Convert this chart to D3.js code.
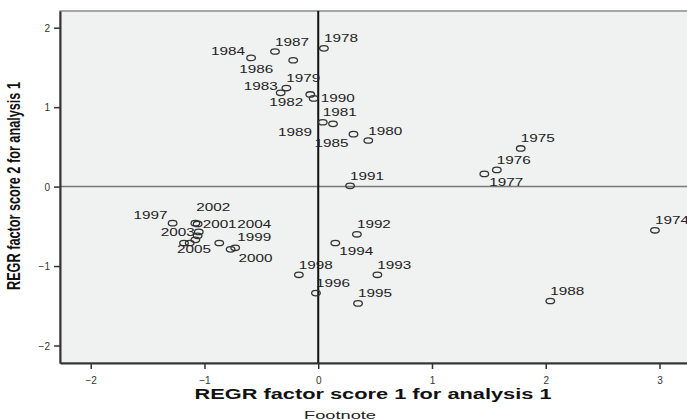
<!DOCTYPE html>
<html>
<head>
<meta charset="utf-8">
<script src="https://cdn.jsdelivr.net/npm/d3@7"></script>
<style>
  body { margin: 0; background: #fff; }
  svg { display: block; font-family: Arial, "Liberation Sans", sans-serif; }
</style>
</head>
<body>
<div id="chart"></div>
<script>
// factor scores per year (factor 1 on x, factor 2 on y)
const years = ["1974","1975","1976","1977","1978","1979","1980","1981","1982","1983",
  "1984","1985","1986","1987","1988","1989","1990","1991","1992","1993","1994","1995",
  "1996","1997","1998","1999","2000","2001","2002","2003","2004","2005","","",""];
const score1 = [2.96,1.78,1.57,1.46,0.05,-0.28,0.44,0.04,-0.07,-0.33,
  -0.59,0.31,-0.22,-0.38,2.04,0.13,-0.04,0.28,0.34,0.52,0.15,0.35,
  -0.02,-1.28,-0.17,-0.73,-0.77,-1.06,-1.08,-1.05,-0.87,-1.18,-1.06,-1.08,-1.13];
const score2 = [-0.55,0.48,0.21,0.16,1.74,1.24,0.58,0.81,1.16,1.18,
  1.62,0.66,1.59,1.70,-1.44,0.79,1.11,0.01,-0.60,-1.11,-0.71,-1.47,
  -1.34,-0.46,-1.11,-0.77,-0.79,-0.47,-0.46,-0.57,-0.71,-0.71,-0.62,-0.67,-0.71];
const xTicks = [-2, -1, 0, 1, 2, 3];
const yTicks = [-2, -1, 0, 1, 2];

// label placement tweaks (pixels from point), default is up and to the right
const labelNudge = {
  "1984": [-6, -7, "end"], "1986": [-20, 9, "end"], "1983": [-3, -7, "end"],
  "1982": [-7, 8, "end"], "1990": [7, 0], "1989": [-21, 8, "end"],
  "1985": [-5, 9, "end"], "1977": [5, 8], "1994": [4, 8],
  "1997": [-5, -8, "end"], "2002": [1, -16], "2001": [5, 0],
  "2003": [-4, 0, "end"], "2004": [18, -19], "2005": [-7, 6],
  "1999": [2, -11], "2000": [8, 9]
};

const width = 687, height = 420;
const margin = { top: 11, left: 60, bottom: 363 };

const svg = d3.select('#chart').append('svg')
  .attr('width', width)
  .attr('height', height);

const x = d3.scaleLinear().domain([-2.27, 3.4]).range([margin.left, 705]);
const y = d3.scaleLinear().domain([-2.22, 2.21]).range([margin.bottom, margin.top]);

// plot background
svg.append('rect')
  .attr('x', margin.left).attr('y', margin.top)
  .attr('width', 705 - margin.left).attr('height', margin.bottom - margin.top)
  .attr('fill', '#f0f1f1')
  .attr('stroke', '#8a8a8a')
  .attr('stroke-width', 1.5);

// reference lines at zero
svg.append('line')
  .attr('x1', margin.left).attr('x2', width)
  .attr('y1', y(0)).attr('y2', y(0))
  .attr('stroke', '#7a7a7a').attr('stroke-width', 1.5);
svg.append('line')
  .attr('x1', x(0)).attr('x2', x(0))
  .attr('y1', margin.top).attr('y2', margin.bottom)
  .attr('stroke', '#111').attr('stroke-width', 2);

// axes
const xAxis = svg.append('g')
  .attr('transform', `translate(0,${margin.bottom})`)
  .call(d3.axisBottom(x).tickValues(xTicks).tickSize(6).tickSizeOuter(0).tickFormat(d3.format('d')));
const yAxis = svg.append('g')
  .attr('transform', `translate(${margin.left},0)`)
  .call(d3.axisLeft(y).tickValues(yTicks).tickSize(6).tickSizeOuter(0).tickFormat(d3.format('d')));

[xAxis, yAxis].forEach(a => {
  a.select('.domain').attr('stroke', '#333').attr('stroke-width', 2);
  a.selectAll('.tick line').attr('stroke', '#333').attr('stroke-width', 1.5);
  a.selectAll('.tick text')
    .attr('fill', '#333')
    .style('font-size', '10px')
    .style('font-family', 'Arial, "Liberation Sans", sans-serif');
});
xAxis.selectAll('.tick text').attr('dy', '1.2em');
yAxis.selectAll('.tick text').attr('dy', '0.35em').attr('x', -10);

// points
const pts = years.map((yr, i) => ({ yr, a: score1[i], b: score2[i] }));

svg.append('g').selectAll('ellipse')
  .data(pts)
  .join('ellipse')
  .attr('cx', d => x(d.a))
  .attr('cy', d => y(d.b))
  .attr('rx', 4.3)
  .attr('ry', 2.7)
  .attr('fill', 'none')
  .attr('stroke', '#333')
  .attr('stroke-width', 1.3);

svg.append('g').selectAll('text')
  .data(pts.filter(d => d.yr))
  .join('text')
  .attr('x', d => x(d.a) + (labelNudge[d.yr] ? labelNudge[d.yr][0] : 0))
  .attr('y', d => y(d.b) + (labelNudge[d.yr] ? labelNudge[d.yr][1] : -10) + 4)
  .attr('text-anchor', d => (labelNudge[d.yr] && labelNudge[d.yr][2]) || 'start')
  .attr('textLength', 34)
  .attr('lengthAdjust', 'spacingAndGlyphs')
  .style('font-size', '11px')
  .attr('fill', '#222')
  .text(d => d.yr);

// axis titles
svg.append('text')
  .attr('x', 373).attr('y', 399)
  .attr('text-anchor', 'middle')
  .attr('textLength', 357)
  .attr('lengthAdjust', 'spacingAndGlyphs')
  .style('font-size', '14px')
  .style('font-weight', 'bold')
  .attr('fill', '#111')
  .text('REGR factor score   1 for analysis 1');

// y title is drawn narrow and tall, as in the original export
svg.append('text')
  .attr('transform', 'translate(20,186) rotate(-90) scale(1,1.35)')
  .attr('text-anchor', 'middle')
  .attr('textLength', 208)
  .attr('lengthAdjust', 'spacingAndGlyphs')
  .style('font-size', '14px')
  .style('font-weight', 'bold')
  .attr('fill', '#111')
  .text('REGR factor score   2 for analysis 1');

svg.append('text')
  .attr('x', 340).attr('y', 419)
  .attr('text-anchor', 'middle')
  .attr('textLength', 72)
  .attr('lengthAdjust', 'spacingAndGlyphs')
  .style('font-size', '11px')
  .attr('fill', '#222')
  .text('Footnote');
</script>
</body>
</html>
